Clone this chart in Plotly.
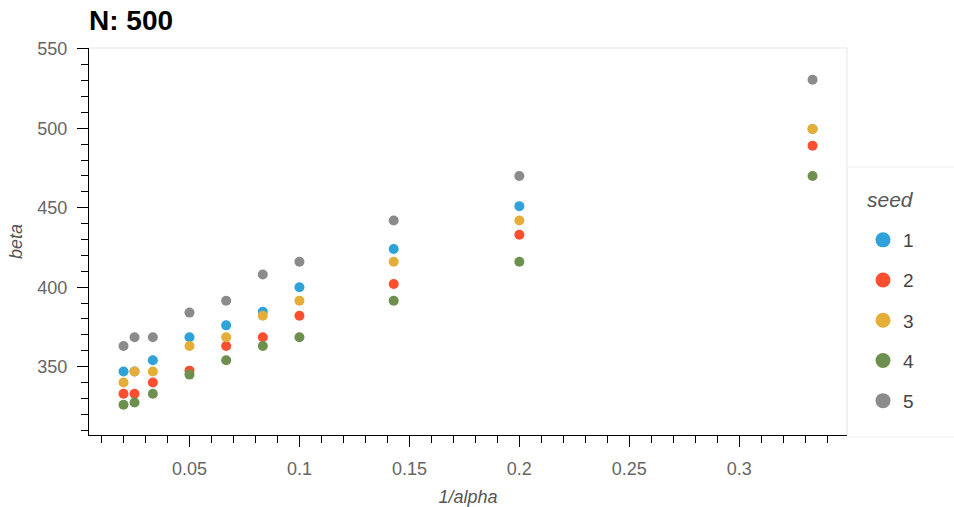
import plotly.graph_objects as go

# data
inv_alpha = [1/50, 1/40, 1/30, 1/20, 1/15, 1/12, 1/10, 1/7, 1/5, 1/3]
seeds = ["1", "2", "3", "4", "5"]
beta_seed1 = [347, 347, 354, 368.5, 376, 384.5, 400, 424, 451, 499.5]
beta_seed2 = [333, 333, 340, 347.5, 363, 368.5, 382, 402, 433, 489]
beta_seed3 = [340, 347, 347, 363, 368.5, 382, 391.5, 416, 442, 499.5]
beta_seed4 = [326, 327.5, 333, 345, 354, 363, 368.5, 391.5, 416, 470]
beta_seed5 = [363, 368.5, 368.5, 384, 391.5, 408, 416, 442, 470, 530.5]
series = [beta_seed1, beta_seed2, beta_seed3, beta_seed4, beta_seed5]
colors = ["#30a2da", "#fc4f30", "#e5ae38", "#6d904f", "#8b8b8b"]

FONT = "Liberation Sans, Arial, Helvetica, sans-serif"

fig = go.Figure()
for s, vals, c in zip(seeds, series, colors):
    fig.add_trace(go.Scatter(x=inv_alpha, y=vals, mode="markers",
                             marker=dict(size=10, color=c, line=dict(width=0)),
                             showlegend=False, hoverinfo="x+y"))
for s, c in zip(seeds, colors):
    fig.add_trace(go.Scatter(x=[None], y=[None], mode="markers", name=s,
                             legendgroup=s,
                             marker=dict(size=15, color=c, line=dict(width=0))))

W, H = 954, 507
L, R, T, B = 89, 107, 48, 72
PH = H - T - B
PW = W - L - R

def py(pix):  # page pixel y -> paper y
    return (H - B - pix) / PH

def px(pix):  # page pixel x -> paper x
    return (pix - L) / PW

fig.update_layout(
    width=W, height=H,
    margin=dict(l=L, r=R, t=T, b=B, pad=0, autoexpand=False),
    paper_bgcolor="white", plot_bgcolor="white",
    font=dict(family=FONT, color="#555555"),
    title=dict(text="<b>N: 500</b>", font=dict(size=28, color="black", family=FONT),
               xref="paper", x=0, xanchor="left", yref="container", y=1 - 20/H, yanchor="middle"),
    xaxis=dict(range=[0.0043, 0.3490], showgrid=False, zeroline=False, automargin=False,
               showline=True, linecolor="black", linewidth=1,
               ticks="outside", ticklen=11, tickwidth=1, tickcolor="black",
               tick0=0, dtick=0.05, ticklabelstandoff=6,
               tickfont=dict(size=18, color="#666666"),
               minor=dict(ticks="outside", ticklen=7, tickcolor="black", dtick=0.01, tick0=0, showgrid=False),
               title=dict(text="<i>1/alpha</i>", font=dict(size=18, color="#555555"), standoff=15)),
    yaxis=dict(range=[307, 550.5], showgrid=False, zeroline=False, automargin=False,
               showline=True, linecolor="black", linewidth=1,
               ticks="outside", ticklen=11, tickwidth=1, tickcolor="black",
               tick0=0, dtick=50, ticklabelstandoff=6,
               tickfont=dict(size=18, color="#666666"),
               minor=dict(ticks="outside", ticklen=7, tickcolor="black", dtick=10, tick0=0, showgrid=False),
               title=dict(text="<i>beta</i>", font=dict(size=18, color="#555555"), standoff=10)),
    legend=dict(font=dict(size=19, color="#444444"),
                x=px(863), xanchor="left", y=py(221), yanchor="top",
                bgcolor="rgba(0,0,0,0)", borderwidth=0, tracegroupgap=12.5,
                itemsizing="trace"),
    showlegend=True,
)
fig.add_annotation(text="<i>seed</i>", xref="paper", yref="paper", x=px(865), y=py(200),
                   xanchor="left", yanchor="middle", showarrow=False,
                   font=dict(size=21, color="#555555", family=FONT))
# plot frame (top/right) and legend box
fig.add_shape(type="line", xref="paper", yref="paper", x0=0, x1=1, y0=1, y1=1,
              line=dict(color="#e5e5e5", width=1), layer="below")
fig.add_shape(type="line", xref="paper", yref="paper", x0=1, x1=1, y0=0, y1=1,
              line=dict(color="#e5e5e5", width=1), layer="below")
fig.add_shape(type="rect", xref="paper", yref="paper", x0=1, x1=1.2, y0=py(437), y1=py(167),
              line=dict(color="#eeeeee", width=1), fillcolor="rgba(0,0,0,0)", layer="below")

fig.write_html("out.html", config={"displayModeBar": False},
               post_script="document.body.style.margin='0';")
